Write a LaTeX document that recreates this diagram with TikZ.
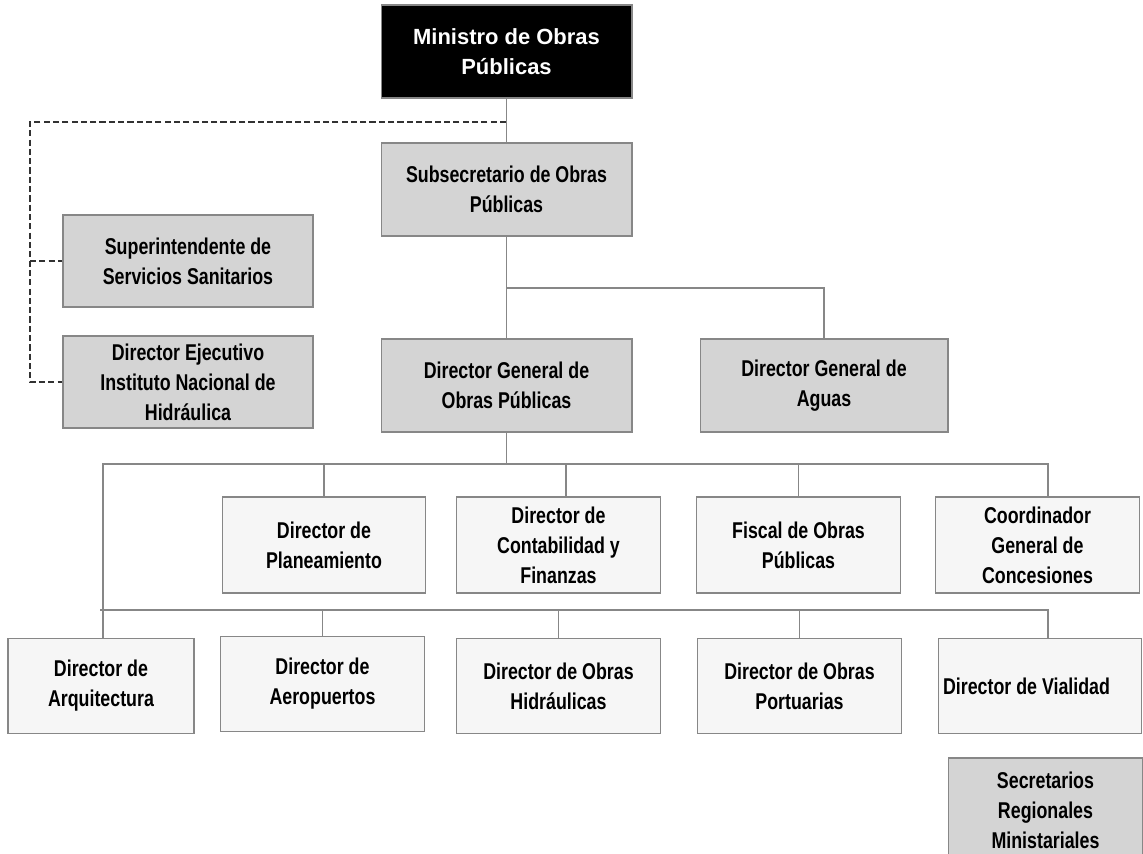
\documentclass[tikz,border=0pt]{standalone}
\usepackage{fontspec}
\setmainfont{Liberation Sans}
\newfontfamily\orgfont[FakeStretch=0.78]{Liberation Sans}
\definecolor{boxgray}{RGB}{212,212,212}
\definecolor{boxlight}{RGB}{246,246,246}
\definecolor{edgegray}{RGB}{135,135,135}
\definecolor{dashgray}{RGB}{50,50,50}
\tikzset{
  orgbox/.style={draw=edgegray, line width=0.6pt, align=center, inner sep=2pt,
    font=\orgfont\bfseries\fontsize{13}{17}\selectfont},
  grayunit/.style={orgbox, fill=boxgray, minimum width=5.02cm, minimum height=1.86cm},
  grayside/.style={orgbox, fill=boxgray, minimum width=5.0cm, minimum height=1.84cm},
  lightunit/.style={orgbox, fill=boxlight, minimum width=4.07cm, minimum height=1.92cm},
  topunit/.style={draw=edgegray, line width=0.6pt, fill=black, text=white, align=center,
    minimum width=5.02cm, minimum height=1.86cm,
    font=\bfseries\fontsize{12.5}{17}\selectfont},
  orgline/.style={draw=edgegray, line width=0.6pt},
  dashline/.style={draw=dashgray, line width=1.2pt, dash pattern=on 3.5pt off 1.8pt},
}

\begin{document}
\begin{tikzpicture}[x=0.02cm, y=-0.02cm]
\useasboundingbox (0,0) rectangle (1143,853);
\node[topunit] (mini) at (506.5,51.5) {Ministro de Obras\\Públicas};
\node[grayunit] (subs) at (506.5,189.5) {Subsecretario de Obras\\Públicas};
\node[grayside] (supe) at (188,261) {Superintendente de\\Servicios Sanitarios};
\node[grayside] (inh) at (188,382) {Director Ejecutivo\\Instituto Nacional de\\Hidráulica};
\node[grayunit] (dgop) at (506.5,385.5) {Director General de\\Obras Públicas};
\node[grayunit, minimum width=4.96cm] (dga) at (824,385.5) {Director General de\\Aguas};

\node[lightunit] (plan) at (324,545) {Director de\\Planeamiento};
\node[lightunit] (cont) at (558.5,545) {Director de\\Contabilidad y\\Finanzas};
\node[lightunit] (fisc) at (798.5,545) {Fiscal de Obras\\Públicas};
\node[lightunit] (coor) at (1037.5,545) {Coordinador\\General de\\Concesiones};

\node[lightunit, minimum width=3.72cm, minimum height=1.9cm] (arq) at (101,686) {Director de\\Arquitectura};
\node[lightunit, minimum height=1.9cm] (aer) at (322.5,684) {Director de\\Aeropuertos};
\node[lightunit, minimum height=1.9cm] (hid) at (558.5,686) {Director de Obras\\Hidráulicas};
\node[lightunit, minimum height=1.9cm] (por) at (799.5,686) {Director de Obras\\Portuarias};
\node[lightunit, minimum height=1.9cm, text width=3.88cm, align=flush left] (via) at (1040,686) {Director de Vialidad};

\node[orgbox, fill=boxgray, minimum width=3.9cm, minimum height=2.08cm] (sec) at (1045.5,810) {Secretarios\\Regionales\\Ministariales};

\coordinate (bus0) at (826,288);
\coordinate (bus1w) at (103,464);
\coordinate (bus1e) at (1048,464);
\coordinate (bus2w) at (100,610);
\coordinate (bus2e) at (1048,610);
\coordinate (dtop) at (506,122);
\coordinate (dleft) at (30,122);

\draw[orgline] (mini.south) -- (subs.north);
\draw[dashline] (dtop) -- (dleft) |- (inh.west);
\draw[dashline] (dleft |- supe.west) -- (supe.west);

\draw[orgline] (subs.south) -- (dgop.north);
\draw[orgline] (subs.south |- bus0) -| (dga.north);

\draw[orgline] (dgop.south) -- (dgop.south |- bus1w);
\draw[orgline] (bus1w |- arq.north) -- (bus1w) -- (bus1e) -- (bus1e |- coor.north);
\foreach \n in {plan,fisc}
  \draw[orgline] (\n.north) -- (\n.north |- bus1w);
\draw[orgline] ([xshift=0.15cm]cont.north) -- ([xshift=0.15cm]cont.north |- bus1w);

\draw[orgline] (bus2w) -- (bus2e) -- (bus2e |- via.north);
\foreach \n in {aer,hid,por}
  \draw[orgline] (\n.north) -- (\n.north |- bus2w);
\end{tikzpicture}
\end{document}
